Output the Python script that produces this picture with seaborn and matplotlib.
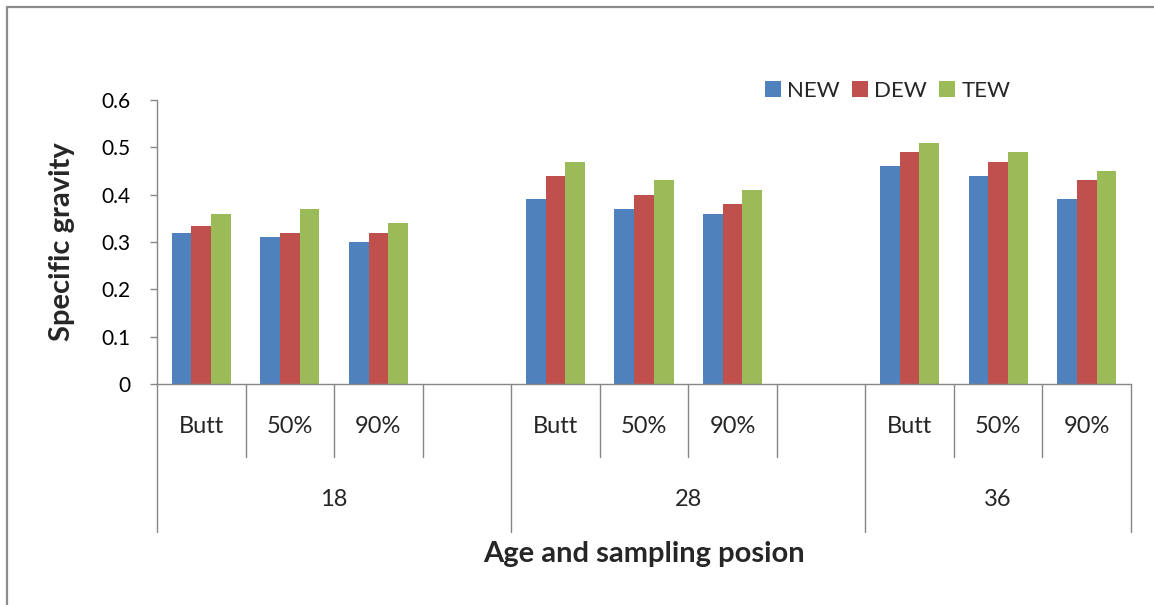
import matplotlib
matplotlib.use("Agg")
import matplotlib.pyplot as plt
import matplotlib.transforms as mtransforms
from matplotlib.lines import Line2D
from matplotlib.patches import Patch
import seaborn as sns
import pandas as pd

# Data: specific gravity by tree age and sampling position
ages = ["18", "28", "36"]
positions = ["Butt", "50%", "90%"]
series = ["NEW", "DEW", "TEW"]
new_vals = [0.32, 0.31, 0.30, 0.39, 0.37, 0.36, 0.46, 0.44, 0.39]
dew_vals = [0.333, 0.32, 0.32, 0.44, 0.40, 0.38, 0.49, 0.47, 0.43]
tew_vals = [0.36, 0.37, 0.34, 0.47, 0.43, 0.41, 0.51, 0.49, 0.45]
yticks = [0, 0.1, 0.2, 0.3, 0.4, 0.5, 0.6]
ytick_labels = ["0", "0.1", "0.2", "0.3", "0.4", "0.5", "0.6"]
colors = ["#4F81BD", "#C0504D", "#9BBB59"]

sns.set_theme(style="white")
plt.rcParams["font.family"] = ["Lato", "DejaVu Sans"]

rows = []
for s, vals in zip(series, [new_vals, dew_vals, tew_vals]):
    for i, v in enumerate(vals):
        rows.append({"slot": f"{ages[i // 3]} {positions[i % 3]}",
                     "series": s, "value": v})
df = pd.DataFrame(rows)

# Category slots: three positions per age, an empty slot between ages
order = []
for k, a in enumerate(ages):
    order += [f"{a} {p}" for p in positions]
    if k < len(ages) - 1:
        order.append(f"{a} spacer")

W, H = 1154, 605
fig = plt.figure(figsize=(W / 100, H / 100), dpi=100)
ax = fig.add_axes([157 / W, (H - 384) / H, (1131 - 157) / W, (384 - 100) / H])

sns.barplot(data=df, x="slot", y="value", hue="series", order=order,
            hue_order=series, palette=colors, saturation=1, width=3 / 4.5,
            gap=0, errorbar=None, legend=False, linewidth=0, ax=ax)

axis_grey = "#868686"
ax.set_xlim(-0.5, len(order) - 0.5)
ax.set_ylim(0, 0.6)
ax.set_yticks(yticks)
ax.set_yticklabels(ytick_labels, fontsize=15, color="#000000")
ax.tick_params(axis="y", length=5, width=1, color=axis_grey, pad=14, left=True)
ax.set_xticks([])
ax.set_xlabel("")
ax.set_ylabel("")
for side in ["top", "right"]:
    ax.spines[side].set_visible(False)
for side in ["left", "bottom"]:
    ax.spines[side].set_color(axis_grey)
    ax.spines[side].set_linewidth(1)

ax.text((62 - 157) / 974, 0.5, "Specific gravity", transform=ax.transAxes,
        rotation=90, ha="center", va="center", fontsize=21, fontweight="bold")

# Two-level category axis
trans = mtransforms.blended_transform_factory(ax.transData, ax.transAxes)
for i, name in enumerate(order):
    if "spacer" not in name:
        ax.text(i, -0.151, name.split(" ", 1)[1], transform=trans,
                ha="center", va="center", fontsize=17)
group_edges = [-0.5, 3.5, 7.5, len(order) - 0.5]
for k in range(len(order) + 1):
    x = k - 0.5
    bottom = -0.521 if x in group_edges else -0.257
    ax.add_line(Line2D([x, x], [0, bottom], transform=trans, color=axis_grey,
                       lw=1, clip_on=False))
for a, (x0, x1) in zip(ages, zip(group_edges[:-1], group_edges[1:])):
    ax.text((x0 + x1) / 2, -0.408, a, transform=trans, ha="center",
            va="center", fontsize=17)

ax.text(0.5, -0.599, "Age and sampling posion", transform=ax.transAxes,
        ha="center", va="center", fontsize=21, fontweight="bold")

handles = [Patch(facecolor=c, edgecolor="none", label=s)
           for c, s in zip(colors, series)]
fig.legend(handles=handles, loc="center left", bbox_to_anchor=(765 / W, 1 - 91 / H),
           ncol=3, frameon=False, fontsize=16, handlelength=0.7,
           handleheight=0.7, handletextpad=0.3, columnspacing=0.55,
           borderpad=0, borderaxespad=0)

# Chart-area frame along the top and left edges
frame_grey = "#8c8c8c"
fig.add_artist(Line2D([6.5 / W, 1], [1 - 6.5 / H, 1 - 6.5 / H],
                      transform=fig.transFigure, color=frame_grey, lw=1.6))
fig.add_artist(Line2D([6.5 / W, 6.5 / W], [0, 1 - 6.5 / H],
                      transform=fig.transFigure, color=frame_grey, lw=1.6))

fig.savefig("out.png", dpi=100, facecolor="white")
